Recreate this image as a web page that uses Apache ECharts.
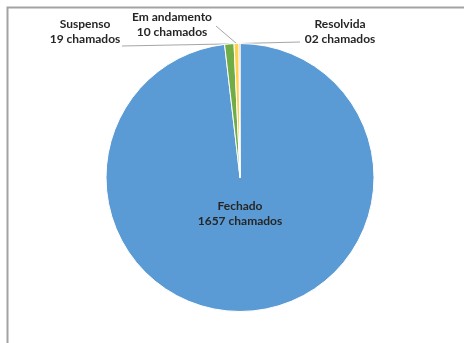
<!DOCTYPE html>
<html>
<head>
<meta charset="utf-8">
<script src="https://cdn.jsdelivr.net/npm/echarts@6/dist/echarts.min.js"></script>
<style>
  html, body { margin: 0; padding: 0; background: #ffffff; }
  #chart { width: 464px; height: 343px; }
</style>
</head>
<body>
<div id="chart"></div>
<script>
// Ticket status breakdown
const categories = ['Fechado', 'Suspenso', 'Em andamento', 'Resolvida'];
const counts = [1657, 19, 10, 2];
const countText = ['1657', '19', '10', '02'];
const sliceColors = ['#5B9BD5', '#70AD47', '#FFD24D', '#ED7D31'];

// Label block centres and leader-line end points (null = label inside the slice)
const labelCentres = [[240, 214], [85, 32], [172, 25], [340, 32]];
const leaderEnds = [null, [122, 46], [216, 26], [300, 42]];

const chart = echarts.init(document.getElementById('chart'), null, { renderer: 'canvas' });

const pieData = categories.map((name, i) => ({
  name: name,
  value: counts[i],
  itemStyle: { color: sliceColors[i] },
  label: { position: i === 0 ? 'inside' : 'outside' },
  labelLine: { show: i !== 0 }
}));

chart.setOption({
  animation: false,
  backgroundColor: '#ffffff',
  graphic: [{
    type: 'rect',
    shape: { x: 7.5, y: 7.5, width: 480, height: 360 },
    style: { fill: 'none', stroke: '#a3a3a3', lineWidth: 2 },
    silent: true
  }],
  series: [{
    type: 'pie',
    center: [240, 177.5],
    radius: 134,
    startAngle: 90,
    clockwise: true,
    avoidLabelOverlap: false,
    emphasis: { disabled: true },
    itemStyle: { borderColor: '#ffffff', borderWidth: 1 },
    label: {
      show: true,
      fontFamily: 'Lato',
      fontWeight: 'bold',
      fontSize: 12,
      lineHeight: 15,
      color: '#262626',
      align: 'center',
      formatter: p => p.name + '\n' + countText[p.dataIndex] + ' chamados'
    },
    labelLine: {
      show: true,
      length: 10,
      length2: 10,
      lineStyle: { color: '#a6a6a6', width: 1 }
    },
    labelLayout: params => {
      const i = params.dataIndex;
      const c = labelCentres[i];
      const out = { x: c[0], y: c[1], align: 'center', verticalAlign: 'middle' };
      if (leaderEnds[i] && params.labelLinePoints) {
        const start = params.labelLinePoints[0];
        out.labelLinePoints = [[start[0], start[1]], leaderEnds[i]];
      }
      return out;
    },
    data: pieData
  }]
});
</script>
</body>
</html>
